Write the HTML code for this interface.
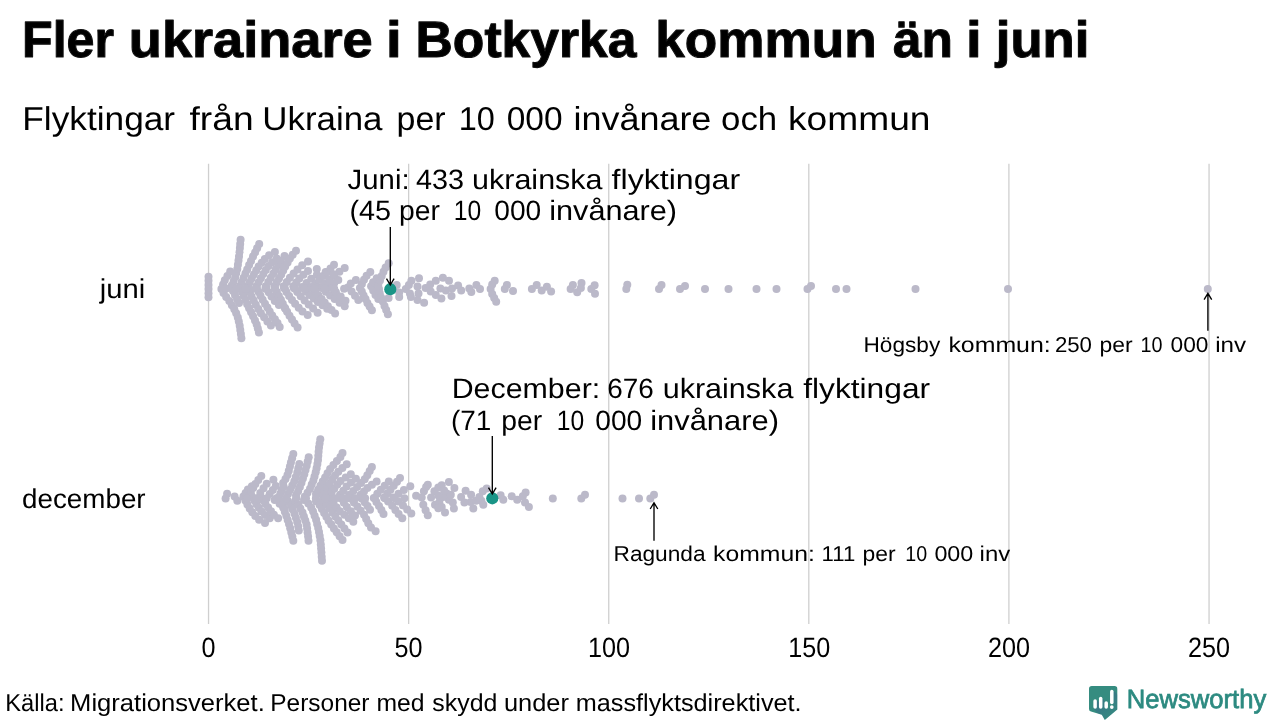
<!DOCTYPE html>
<html lang="sv">
<head>
<meta charset="utf-8">
<title>Fler ukrainare i Botkyrka kommun än i juni</title>
<style>
html,body{margin:0;padding:0;background:#fff;}
body{width:1280px;height:720px;overflow:hidden;}
svg{display:block;font-family:"Liberation Sans",sans-serif;text-rendering:geometricPrecision;will-change:transform;}
text{fill:#000;}
</style>
</head>
<body>
<svg width="1280" height="720" viewBox="0 0 1280 720">
<rect width="1280" height="720" fill="#ffffff"/>
<!-- gridlines -->
<g stroke="#cfcfcf" stroke-width="1.3">
<line x1="208.55" y1="163.7" x2="208.55" y2="624"/>
<line x1="408.65" y1="163.7" x2="408.65" y2="624"/>
<line x1="608.75" y1="163.7" x2="608.75" y2="624"/>
<line x1="808.8" y1="163.7" x2="808.8" y2="624"/>
<line x1="1008.9" y1="163.7" x2="1008.9" y2="624"/>
<line x1="1209.05" y1="163.7" x2="1209.05" y2="624"/>
</g>
<!-- swarm dots -->
<g fill="#bbb9c9">
<circle cx="208.5" cy="276.7" r="4.0"/>
<circle cx="208.5" cy="280.8" r="4.0"/>
<circle cx="208.5" cy="284.9" r="4.0"/>
<circle cx="208.5" cy="289.1" r="4.0"/>
<circle cx="208.5" cy="293.2" r="4.0"/>
<circle cx="208.5" cy="297.3" r="4.0"/>
<circle cx="221.4" cy="289.0" r="4.0"/>
<circle cx="223.1" cy="284.6" r="4.0"/>
<circle cx="224.8" cy="280.2" r="4.0"/>
<circle cx="227.4" cy="275.9" r="4.0"/>
<circle cx="230.2" cy="271.6" r="4.0"/>
<circle cx="223.5" cy="293.1" r="4.0"/>
<circle cx="226.2" cy="297.1" r="4.0"/>
<circle cx="229.3" cy="301.1" r="4.0"/>
<circle cx="231.9" cy="305.2" r="4.0"/>
<circle cx="234.3" cy="309.2" r="4.0"/>
<circle cx="236.2" cy="313.3" r="4.0"/>
<circle cx="237.8" cy="317.4" r="4.0"/>
<circle cx="238.8" cy="321.6" r="4.0"/>
<circle cx="239.7" cy="325.7" r="4.0"/>
<circle cx="240.3" cy="329.9" r="4.0"/>
<circle cx="240.9" cy="334.1" r="4.0"/>
<circle cx="241.4" cy="338.2" r="4.0"/>
<circle cx="231.8" cy="285.5" r="4.0"/>
<circle cx="233.6" cy="281.4" r="4.0"/>
<circle cx="235.2" cy="277.3" r="4.0"/>
<circle cx="236.3" cy="273.1" r="4.0"/>
<circle cx="237.3" cy="268.9" r="4.0"/>
<circle cx="237.9" cy="264.8" r="4.0"/>
<circle cx="238.5" cy="260.6" r="4.0"/>
<circle cx="239.0" cy="256.4" r="4.0"/>
<circle cx="239.5" cy="252.2" r="4.0"/>
<circle cx="239.9" cy="248.0" r="4.0"/>
<circle cx="240.2" cy="243.9" r="4.0"/>
<circle cx="240.6" cy="239.7" r="4.0"/>
<circle cx="231.0" cy="287.1" r="4.0"/>
<circle cx="233.0" cy="291.1" r="4.0"/>
<circle cx="235.0" cy="295.1" r="4.0"/>
<circle cx="237.0" cy="299.1" r="4.0"/>
<circle cx="239.0" cy="303.1" r="4.0"/>
<circle cx="239.8" cy="286.3" r="4.0"/>
<circle cx="241.7" cy="282.1" r="4.0"/>
<circle cx="243.6" cy="277.8" r="4.0"/>
<circle cx="245.4" cy="273.6" r="4.0"/>
<circle cx="247.2" cy="269.4" r="4.0"/>
<circle cx="249.1" cy="265.1" r="4.0"/>
<circle cx="251.0" cy="260.9" r="4.0"/>
<circle cx="253.0" cy="256.6" r="4.0"/>
<circle cx="255.1" cy="252.4" r="4.0"/>
<circle cx="257.1" cy="248.2" r="4.0"/>
<circle cx="259.2" cy="244.0" r="4.0"/>
<circle cx="240.2" cy="287.9" r="4.0"/>
<circle cx="242.0" cy="292.0" r="4.0"/>
<circle cx="243.8" cy="296.0" r="4.0"/>
<circle cx="245.5" cy="300.1" r="4.0"/>
<circle cx="247.2" cy="304.2" r="4.0"/>
<circle cx="249.1" cy="308.2" r="4.0"/>
<circle cx="251.1" cy="312.3" r="4.0"/>
<circle cx="253.1" cy="316.3" r="4.0"/>
<circle cx="255.0" cy="320.4" r="4.0"/>
<circle cx="256.7" cy="324.4" r="4.0"/>
<circle cx="257.8" cy="328.5" r="4.0"/>
<circle cx="258.9" cy="332.6" r="4.0"/>
<circle cx="247.7" cy="286.3" r="4.0"/>
<circle cx="249.7" cy="282.4" r="4.0"/>
<circle cx="251.7" cy="278.4" r="4.0"/>
<circle cx="253.9" cy="274.4" r="4.0"/>
<circle cx="256.2" cy="270.5" r="4.0"/>
<circle cx="258.6" cy="266.6" r="4.0"/>
<circle cx="261.7" cy="262.7" r="4.0"/>
<circle cx="264.8" cy="258.9" r="4.0"/>
<circle cx="269.1" cy="255.2" r="4.0"/>
<circle cx="274.9" cy="252.0" r="4.0"/>
<circle cx="248.2" cy="287.9" r="4.0"/>
<circle cx="249.9" cy="292.2" r="4.0"/>
<circle cx="251.6" cy="296.4" r="4.0"/>
<circle cx="253.7" cy="300.6" r="4.0"/>
<circle cx="255.8" cy="304.8" r="4.0"/>
<circle cx="258.3" cy="309.0" r="4.0"/>
<circle cx="260.9" cy="313.2" r="4.0"/>
<circle cx="264.1" cy="317.3" r="4.0"/>
<circle cx="267.4" cy="321.4" r="4.0"/>
<circle cx="270.9" cy="325.5" r="4.0"/>
<circle cx="256.5" cy="286.3" r="4.0"/>
<circle cx="258.7" cy="282.2" r="4.0"/>
<circle cx="260.9" cy="278.2" r="4.0"/>
<circle cx="263.3" cy="274.1" r="4.0"/>
<circle cx="265.8" cy="270.1" r="4.0"/>
<circle cx="268.7" cy="266.1" r="4.0"/>
<circle cx="272.1" cy="262.2" r="4.0"/>
<circle cx="276.7" cy="258.5" r="4.0"/>
<circle cx="284.5" cy="256.0" r="4.0"/>
<circle cx="256.9" cy="287.9" r="4.0"/>
<circle cx="258.7" cy="291.9" r="4.0"/>
<circle cx="260.5" cy="295.8" r="4.0"/>
<circle cx="262.7" cy="299.7" r="4.0"/>
<circle cx="265.0" cy="303.7" r="4.0"/>
<circle cx="267.4" cy="307.6" r="4.0"/>
<circle cx="269.7" cy="311.5" r="4.0"/>
<circle cx="272.2" cy="315.4" r="4.0"/>
<circle cx="274.9" cy="319.2" r="4.0"/>
<circle cx="277.5" cy="323.1" r="4.0"/>
<circle cx="279.7" cy="327.0" r="4.0"/>
<circle cx="265.8" cy="286.3" r="4.0"/>
<circle cx="268.3" cy="282.1" r="4.0"/>
<circle cx="270.8" cy="277.8" r="4.0"/>
<circle cx="273.3" cy="273.5" r="4.0"/>
<circle cx="275.8" cy="269.3" r="4.0"/>
<circle cx="278.3" cy="265.0" r="4.0"/>
<circle cx="280.5" cy="260.8" r="4.0"/>
<circle cx="266.1" cy="287.9" r="4.0"/>
<circle cx="268.7" cy="292.3" r="4.0"/>
<circle cx="271.5" cy="296.6" r="4.0"/>
<circle cx="274.8" cy="300.9" r="4.0"/>
<circle cx="278.9" cy="305.1" r="4.0"/>
<circle cx="285.3" cy="308.7" r="4.0"/>
<circle cx="274.4" cy="286.3" r="4.0"/>
<circle cx="276.7" cy="282.4" r="4.0"/>
<circle cx="279.0" cy="278.4" r="4.0"/>
<circle cx="281.2" cy="274.4" r="4.0"/>
<circle cx="283.2" cy="270.5" r="4.0"/>
<circle cx="285.2" cy="266.5" r="4.0"/>
<circle cx="287.6" cy="262.5" r="4.0"/>
<circle cx="289.9" cy="258.6" r="4.0"/>
<circle cx="292.7" cy="254.7" r="4.0"/>
<circle cx="296.0" cy="250.8" r="4.0"/>
<circle cx="274.9" cy="287.9" r="4.0"/>
<circle cx="276.9" cy="291.9" r="4.0"/>
<circle cx="278.9" cy="295.9" r="4.0"/>
<circle cx="280.9" cy="299.8" r="4.0"/>
<circle cx="282.8" cy="303.8" r="4.0"/>
<circle cx="284.8" cy="307.8" r="4.0"/>
<circle cx="287.1" cy="311.7" r="4.0"/>
<circle cx="289.5" cy="315.7" r="4.0"/>
<circle cx="292.0" cy="319.6" r="4.0"/>
<circle cx="294.6" cy="323.5" r="4.0"/>
<circle cx="297.6" cy="327.4" r="4.0"/>
<circle cx="283.7" cy="286.3" r="4.0"/>
<circle cx="286.8" cy="282.0" r="4.0"/>
<circle cx="289.9" cy="277.8" r="4.0"/>
<circle cx="293.6" cy="273.6" r="4.0"/>
<circle cx="297.5" cy="269.4" r="4.0"/>
<circle cx="302.2" cy="265.3" r="4.0"/>
<circle cx="308.0" cy="261.6" r="4.0"/>
<circle cx="284.0" cy="287.9" r="4.0"/>
<circle cx="286.5" cy="291.9" r="4.0"/>
<circle cx="289.1" cy="295.9" r="4.0"/>
<circle cx="292.0" cy="299.9" r="4.0"/>
<circle cx="295.1" cy="303.8" r="4.0"/>
<circle cx="298.7" cy="307.7" r="4.0"/>
<circle cx="302.5" cy="311.5" r="4.0"/>
<circle cx="307.7" cy="315.1" r="4.0"/>
<circle cx="293.3" cy="286.3" r="4.0"/>
<circle cx="296.3" cy="282.4" r="4.0"/>
<circle cx="299.3" cy="278.5" r="4.0"/>
<circle cx="303.4" cy="274.8" r="4.0"/>
<circle cx="308.0" cy="271.1" r="4.0"/>
<circle cx="316.8" cy="269.1" r="4.0"/>
<circle cx="293.9" cy="287.9" r="4.0"/>
<circle cx="297.3" cy="292.1" r="4.0"/>
<circle cx="300.7" cy="296.3" r="4.0"/>
<circle cx="304.6" cy="300.5" r="4.0"/>
<circle cx="308.7" cy="304.6" r="4.0"/>
<circle cx="313.1" cy="308.6" r="4.0"/>
<circle cx="317.6" cy="312.7" r="4.0"/>
<circle cx="302.1" cy="287.1" r="4.0"/>
<circle cx="306.5" cy="282.9" r="4.0"/>
<circle cx="311.2" cy="278.8" r="4.0"/>
<circle cx="316.9" cy="274.8" r="4.0"/>
<circle cx="325.6" cy="271.9" r="4.0"/>
<circle cx="302.4" cy="287.9" r="4.0"/>
<circle cx="306.0" cy="291.5" r="4.0"/>
<circle cx="309.5" cy="295.0" r="4.0"/>
<circle cx="313.7" cy="298.5" r="4.0"/>
<circle cx="317.9" cy="301.9" r="4.0"/>
<circle cx="322.5" cy="305.3" r="4.0"/>
<circle cx="327.2" cy="308.7" r="4.0"/>
<circle cx="311.2" cy="287.1" r="4.0"/>
<circle cx="315.4" cy="283.4" r="4.0"/>
<circle cx="319.3" cy="279.7" r="4.0"/>
<circle cx="323.1" cy="276.0" r="4.0"/>
<circle cx="326.8" cy="272.3" r="4.0"/>
<circle cx="330.5" cy="268.5" r="4.0"/>
<circle cx="334.0" cy="264.7" r="4.0"/>
<circle cx="311.5" cy="287.9" r="4.0"/>
<circle cx="315.0" cy="291.5" r="4.0"/>
<circle cx="318.5" cy="295.2" r="4.0"/>
<circle cx="321.6" cy="298.9" r="4.0"/>
<circle cx="324.7" cy="302.6" r="4.0"/>
<circle cx="327.9" cy="306.2" r="4.0"/>
<circle cx="331.5" cy="309.9" r="4.0"/>
<circle cx="335.1" cy="313.5" r="4.0"/>
<circle cx="320.8" cy="287.1" r="4.0"/>
<circle cx="325.1" cy="283.2" r="4.0"/>
<circle cx="329.6" cy="279.3" r="4.0"/>
<circle cx="334.3" cy="275.4" r="4.0"/>
<circle cx="339.4" cy="271.7" r="4.0"/>
<circle cx="344.7" cy="267.9" r="4.0"/>
<circle cx="321.6" cy="287.9" r="4.0"/>
<circle cx="325.8" cy="291.7" r="4.0"/>
<circle cx="330.1" cy="295.4" r="4.0"/>
<circle cx="334.7" cy="299.1" r="4.0"/>
<circle cx="339.6" cy="302.7" r="4.0"/>
<circle cx="344.7" cy="306.3" r="4.0"/>
<circle cx="330.4" cy="286.3" r="4.0"/>
<circle cx="334.3" cy="283.1" r="4.0"/>
<circle cx="338.3" cy="279.9" r="4.0"/>
<circle cx="331.2" cy="287.9" r="4.0"/>
<circle cx="335.9" cy="292.2" r="4.0"/>
<circle cx="340.7" cy="296.4" r="4.0"/>
<circle cx="345.5" cy="300.7" r="4.0"/>
<circle cx="347.9" cy="287.4" r="4.0"/>
<circle cx="350.8" cy="283.5" r="4.0"/>
<circle cx="355.9" cy="279.9" r="4.0"/>
<circle cx="351.6" cy="291.6" r="4.0"/>
<circle cx="355.0" cy="295.7" r="4.0"/>
<circle cx="358.3" cy="299.9" r="4.0"/>
<circle cx="359.9" cy="287.9" r="4.0"/>
<circle cx="361.9" cy="283.9" r="4.0"/>
<circle cx="364.0" cy="279.8" r="4.0"/>
<circle cx="366.6" cy="275.8" r="4.0"/>
<circle cx="370.3" cy="271.9" r="4.0"/>
<circle cx="361.8" cy="291.6" r="4.0"/>
<circle cx="363.6" cy="295.4" r="4.0"/>
<circle cx="365.5" cy="299.1" r="4.0"/>
<circle cx="367.4" cy="302.9" r="4.0"/>
<circle cx="369.6" cy="306.6" r="4.0"/>
<circle cx="371.9" cy="310.3" r="4.0"/>
<circle cx="371.1" cy="286.3" r="4.0"/>
<circle cx="373.1" cy="282.2" r="4.0"/>
<circle cx="376.7" cy="278.3" r="4.0"/>
<circle cx="373.2" cy="290.6" r="4.0"/>
<circle cx="375.5" cy="294.9" r="4.0"/>
<circle cx="378.3" cy="299.1" r="4.0"/>
<circle cx="378.3" cy="284.7" r="4.0"/>
<circle cx="380.0" cy="280.4" r="4.0"/>
<circle cx="381.7" cy="276.0" r="4.0"/>
<circle cx="383.5" cy="271.7" r="4.0"/>
<circle cx="385.6" cy="267.4" r="4.0"/>
<circle cx="388.7" cy="263.2" r="4.0"/>
<circle cx="379.0" cy="289.0" r="4.0"/>
<circle cx="379.7" cy="293.2" r="4.0"/>
<circle cx="381.1" cy="297.4" r="4.0"/>
<circle cx="382.8" cy="301.6" r="4.0"/>
<circle cx="384.5" cy="305.9" r="4.0"/>
<circle cx="386.2" cy="310.1" r="4.0"/>
<circle cx="387.9" cy="314.3" r="4.0"/>
<circle cx="333.5" cy="274.3" r="4.0"/>
<circle cx="226.0" cy="288.7" r="4.0"/>
<circle cx="235.8" cy="288.7" r="4.0"/>
<circle cx="245.7" cy="288.7" r="4.0"/>
<circle cx="255.5" cy="288.7" r="4.0"/>
<circle cx="265.4" cy="288.7" r="4.0"/>
<circle cx="275.2" cy="288.7" r="4.0"/>
<circle cx="285.0" cy="288.7" r="4.0"/>
<circle cx="294.9" cy="288.7" r="4.0"/>
<circle cx="304.7" cy="288.7" r="4.0"/>
<circle cx="314.6" cy="288.7" r="4.0"/>
<circle cx="324.4" cy="288.7" r="4.0"/>
<circle cx="334.2" cy="288.7" r="4.0"/>
<circle cx="344.1" cy="288.7" r="4.0"/>
<circle cx="396.7" cy="284.9" r="4.0"/>
<circle cx="399.2" cy="292.5" r="4.0"/>
<circle cx="399.2" cy="297.1" r="4.0"/>
<circle cx="388.6" cy="298.1" r="4.0"/>
<circle cx="405.8" cy="289.0" r="4.0"/>
<circle cx="408.9" cy="284.9" r="4.0"/>
<circle cx="411.4" cy="280.8" r="4.0"/>
<circle cx="409.9" cy="293.5" r="4.0"/>
<circle cx="410.9" cy="297.1" r="4.0"/>
<circle cx="419.0" cy="278.3" r="4.0"/>
<circle cx="417.5" cy="286.4" r="4.0"/>
<circle cx="418.5" cy="293.5" r="4.0"/>
<circle cx="417.5" cy="300.1" r="4.0"/>
<circle cx="424.1" cy="302.7" r="4.0"/>
<circle cx="425.6" cy="287.9" r="4.0"/>
<circle cx="430.2" cy="284.4" r="4.0"/>
<circle cx="435.8" cy="280.8" r="4.0"/>
<circle cx="442.9" cy="277.8" r="4.0"/>
<circle cx="449.0" cy="280.8" r="4.0"/>
<circle cx="430.7" cy="291.5" r="4.0"/>
<circle cx="435.8" cy="295.1" r="4.0"/>
<circle cx="441.4" cy="298.6" r="4.0"/>
<circle cx="440.4" cy="288.5" r="4.0"/>
<circle cx="445.9" cy="290.5" r="4.0"/>
<circle cx="451.5" cy="296.1" r="4.0"/>
<circle cx="452.0" cy="288.5" r="4.0"/>
<circle cx="458.1" cy="285.4" r="4.0"/>
<circle cx="461.2" cy="290.5" r="4.0"/>
<circle cx="469.3" cy="288.5" r="4.0"/>
<circle cx="471.3" cy="292.0" r="4.0"/>
<circle cx="476.4" cy="284.9" r="4.0"/>
<circle cx="480.0" cy="289.0" r="4.0"/>
<circle cx="490.6" cy="289.0" r="4.0"/>
<circle cx="492.2" cy="284.4" r="4.0"/>
<circle cx="494.7" cy="280.8" r="4.0"/>
<circle cx="492.2" cy="294.0" r="4.0"/>
<circle cx="494.2" cy="298.1" r="4.0"/>
<circle cx="496.2" cy="301.7" r="4.0"/>
<circle cx="506.9" cy="284.9" r="4.0"/>
<circle cx="504.8" cy="289.0" r="4.0"/>
<circle cx="513.0" cy="291.0" r="4.0"/>
<circle cx="531.9" cy="289.0" r="4.0"/>
<circle cx="536.7" cy="285.1" r="4.0"/>
<circle cx="541.7" cy="290.4" r="4.0"/>
<circle cx="546.9" cy="286.8" r="4.0"/>
<circle cx="551.1" cy="291.5" r="4.0"/>
<circle cx="570.6" cy="289.1" r="4.0"/>
<circle cx="572.9" cy="284.9" r="4.0"/>
<circle cx="577.2" cy="292.3" r="4.0"/>
<circle cx="581.5" cy="282.9" r="4.0"/>
<circle cx="580.9" cy="288.1" r="4.0"/>
<circle cx="591.3" cy="289.1" r="4.0"/>
<circle cx="594.6" cy="285.3" r="4.0"/>
<circle cx="595.0" cy="293.8" r="4.0"/>
<circle cx="627.3" cy="284.8" r="4.0"/>
<circle cx="626.3" cy="289.1" r="4.0"/>
<circle cx="659.0" cy="289.0" r="4.0"/>
<circle cx="661.5" cy="285.0" r="4.0"/>
<circle cx="680.0" cy="289.0" r="4.0"/>
<circle cx="685.0" cy="286.0" r="4.0"/>
<circle cx="705.0" cy="289.0" r="4.0"/>
<circle cx="728.5" cy="289.0" r="4.0"/>
<circle cx="756.5" cy="289.0" r="4.0"/>
<circle cx="776.5" cy="289.0" r="4.0"/>
<circle cx="807.5" cy="289.0" r="4.0"/>
<circle cx="811.0" cy="286.0" r="4.0"/>
<circle cx="836.0" cy="289.0" r="4.0"/>
<circle cx="846.5" cy="289.0" r="4.0"/>
<circle cx="915.5" cy="289.0" r="4.0"/>
<circle cx="1008.0" cy="289.0" r="4.0"/>
<circle cx="1207.8" cy="289.0" r="4.0"/>
<circle cx="227.1" cy="493.8" r="4.0"/>
<circle cx="225.6" cy="498.5" r="4.0"/>
<circle cx="234.6" cy="496.6" r="4.0"/>
<circle cx="237.3" cy="500.8" r="4.0"/>
<circle cx="243.4" cy="496.6" r="4.0"/>
<circle cx="245.6" cy="493.1" r="4.0"/>
<circle cx="247.9" cy="489.6" r="4.0"/>
<circle cx="251.9" cy="486.3" r="4.0"/>
<circle cx="245.4" cy="500.6" r="4.0"/>
<circle cx="247.4" cy="504.5" r="4.0"/>
<circle cx="249.7" cy="508.4" r="4.0"/>
<circle cx="252.3" cy="512.2" r="4.0"/>
<circle cx="255.3" cy="516.0" r="4.0"/>
<circle cx="259.1" cy="519.8" r="4.0"/>
<circle cx="265.0" cy="522.9" r="4.0"/>
<circle cx="250.9" cy="491.9" r="4.0"/>
<circle cx="253.2" cy="487.9" r="4.0"/>
<circle cx="255.4" cy="483.9" r="4.0"/>
<circle cx="258.3" cy="479.9" r="4.0"/>
<circle cx="261.3" cy="476.0" r="4.0"/>
<circle cx="251.9" cy="496.6" r="4.0"/>
<circle cx="254.1" cy="500.3" r="4.0"/>
<circle cx="256.3" cy="504.0" r="4.0"/>
<circle cx="258.8" cy="507.7" r="4.0"/>
<circle cx="261.5" cy="511.4" r="4.0"/>
<circle cx="265.0" cy="514.9" r="4.0"/>
<circle cx="269.7" cy="518.2" r="4.0"/>
<circle cx="260.3" cy="492.9" r="4.0"/>
<circle cx="263.5" cy="488.3" r="4.0"/>
<circle cx="266.7" cy="483.7" r="4.0"/>
<circle cx="273.4" cy="479.8" r="4.0"/>
<circle cx="260.3" cy="496.6" r="4.0"/>
<circle cx="262.9" cy="500.3" r="4.0"/>
<circle cx="265.4" cy="503.9" r="4.0"/>
<circle cx="268.1" cy="507.6" r="4.0"/>
<circle cx="271.0" cy="511.2" r="4.0"/>
<circle cx="273.9" cy="514.8" r="4.0"/>
<circle cx="278.1" cy="518.2" r="4.0"/>
<circle cx="269.7" cy="494.0" r="4.0"/>
<circle cx="272.8" cy="490.0" r="4.0"/>
<circle cx="275.8" cy="485.9" r="4.0"/>
<circle cx="283.1" cy="483.1" r="4.0"/>
<circle cx="285.5" cy="479.0" r="4.0"/>
<circle cx="287.5" cy="474.9" r="4.0"/>
<circle cx="288.8" cy="470.7" r="4.0"/>
<circle cx="289.9" cy="466.5" r="4.0"/>
<circle cx="290.9" cy="462.4" r="4.0"/>
<circle cx="292.1" cy="458.2" r="4.0"/>
<circle cx="293.3" cy="454.0" r="4.0"/>
<circle cx="274.7" cy="500.0" r="4.0"/>
<circle cx="279.6" cy="503.7" r="4.0"/>
<circle cx="283.2" cy="507.5" r="4.0"/>
<circle cx="284.8" cy="511.7" r="4.0"/>
<circle cx="286.3" cy="515.8" r="4.0"/>
<circle cx="287.7" cy="519.9" r="4.0"/>
<circle cx="289.0" cy="524.1" r="4.0"/>
<circle cx="290.2" cy="528.2" r="4.0"/>
<circle cx="291.3" cy="532.4" r="4.0"/>
<circle cx="292.3" cy="536.5" r="4.0"/>
<circle cx="293.3" cy="540.7" r="4.0"/>
<circle cx="278.9" cy="496.9" r="4.0"/>
<circle cx="280.4" cy="493.5" r="4.0"/>
<circle cx="281.9" cy="490.1" r="4.0"/>
<circle cx="283.7" cy="486.7" r="4.0"/>
<circle cx="280.9" cy="501.1" r="4.0"/>
<circle cx="282.8" cy="505.2" r="4.0"/>
<circle cx="284.7" cy="509.3" r="4.0"/>
<circle cx="288.0" cy="494.0" r="4.0"/>
<circle cx="290.1" cy="489.7" r="4.0"/>
<circle cx="292.3" cy="485.5" r="4.0"/>
<circle cx="294.3" cy="481.2" r="4.0"/>
<circle cx="295.8" cy="476.9" r="4.0"/>
<circle cx="297.3" cy="472.6" r="4.0"/>
<circle cx="298.3" cy="468.3" r="4.0"/>
<circle cx="299.3" cy="464.0" r="4.0"/>
<circle cx="288.0" cy="501.3" r="4.0"/>
<circle cx="291.0" cy="505.4" r="4.0"/>
<circle cx="292.7" cy="509.5" r="4.0"/>
<circle cx="294.5" cy="513.7" r="4.0"/>
<circle cx="295.9" cy="517.8" r="4.0"/>
<circle cx="297.2" cy="522.0" r="4.0"/>
<circle cx="298.2" cy="526.2" r="4.0"/>
<circle cx="298.8" cy="530.4" r="4.0"/>
<circle cx="296.0" cy="495.3" r="4.0"/>
<circle cx="298.1" cy="491.2" r="4.0"/>
<circle cx="299.9" cy="487.0" r="4.0"/>
<circle cx="301.5" cy="482.7" r="4.0"/>
<circle cx="302.9" cy="478.5" r="4.0"/>
<circle cx="304.3" cy="474.3" r="4.0"/>
<circle cx="305.5" cy="470.1" r="4.0"/>
<circle cx="306.7" cy="465.8" r="4.0"/>
<circle cx="307.7" cy="461.6" r="4.0"/>
<circle cx="308.7" cy="457.3" r="4.0"/>
<circle cx="295.3" cy="500.7" r="4.0"/>
<circle cx="298.3" cy="504.5" r="4.0"/>
<circle cx="300.4" cy="508.5" r="4.0"/>
<circle cx="302.5" cy="512.4" r="4.0"/>
<circle cx="303.9" cy="516.5" r="4.0"/>
<circle cx="305.3" cy="520.5" r="4.0"/>
<circle cx="306.6" cy="524.5" r="4.0"/>
<circle cx="307.1" cy="528.5" r="4.0"/>
<circle cx="307.6" cy="532.6" r="4.0"/>
<circle cx="308.1" cy="536.6" r="4.0"/>
<circle cx="308.5" cy="540.7" r="4.0"/>
<circle cx="304.7" cy="496.7" r="4.0"/>
<circle cx="307.5" cy="492.7" r="4.0"/>
<circle cx="310.0" cy="488.7" r="4.0"/>
<circle cx="311.7" cy="484.6" r="4.0"/>
<circle cx="313.4" cy="480.5" r="4.0"/>
<circle cx="314.5" cy="476.4" r="4.0"/>
<circle cx="315.7" cy="472.3" r="4.0"/>
<circle cx="316.6" cy="468.2" r="4.0"/>
<circle cx="317.4" cy="464.1" r="4.0"/>
<circle cx="318.0" cy="460.0" r="4.0"/>
<circle cx="318.3" cy="455.8" r="4.0"/>
<circle cx="318.6" cy="451.7" r="4.0"/>
<circle cx="319.0" cy="447.6" r="4.0"/>
<circle cx="319.6" cy="443.5" r="4.0"/>
<circle cx="320.3" cy="439.3" r="4.0"/>
<circle cx="304.0" cy="500.0" r="4.0"/>
<circle cx="308.3" cy="503.6" r="4.0"/>
<circle cx="311.2" cy="507.6" r="4.0"/>
<circle cx="313.1" cy="511.6" r="4.0"/>
<circle cx="314.6" cy="515.7" r="4.0"/>
<circle cx="316.1" cy="519.8" r="4.0"/>
<circle cx="317.1" cy="523.9" r="4.0"/>
<circle cx="318.2" cy="527.9" r="4.0"/>
<circle cx="319.0" cy="532.0" r="4.0"/>
<circle cx="319.7" cy="536.1" r="4.0"/>
<circle cx="320.4" cy="540.2" r="4.0"/>
<circle cx="320.8" cy="544.4" r="4.0"/>
<circle cx="321.1" cy="548.5" r="4.0"/>
<circle cx="321.4" cy="552.6" r="4.0"/>
<circle cx="321.7" cy="556.7" r="4.0"/>
<circle cx="322.0" cy="560.8" r="4.0"/>
<circle cx="316.0" cy="494.0" r="4.0"/>
<circle cx="318.1" cy="489.8" r="4.0"/>
<circle cx="320.4" cy="485.7" r="4.0"/>
<circle cx="322.7" cy="481.5" r="4.0"/>
<circle cx="325.1" cy="477.4" r="4.0"/>
<circle cx="327.5" cy="473.3" r="4.0"/>
<circle cx="330.1" cy="469.1" r="4.0"/>
<circle cx="333.4" cy="465.1" r="4.0"/>
<circle cx="336.9" cy="461.1" r="4.0"/>
<circle cx="340.4" cy="457.1" r="4.0"/>
<circle cx="342.5" cy="452.9" r="4.0"/>
<circle cx="316.0" cy="501.3" r="4.0"/>
<circle cx="319.6" cy="505.0" r="4.0"/>
<circle cx="321.9" cy="509.0" r="4.0"/>
<circle cx="324.1" cy="512.9" r="4.0"/>
<circle cx="326.4" cy="516.8" r="4.0"/>
<circle cx="328.6" cy="520.7" r="4.0"/>
<circle cx="331.2" cy="524.6" r="4.0"/>
<circle cx="333.9" cy="528.4" r="4.0"/>
<circle cx="336.7" cy="532.3" r="4.0"/>
<circle cx="339.6" cy="536.2" r="4.0"/>
<circle cx="342.5" cy="540.0" r="4.0"/>
<circle cx="322.7" cy="495.3" r="4.0"/>
<circle cx="324.7" cy="491.3" r="4.0"/>
<circle cx="327.1" cy="487.4" r="4.0"/>
<circle cx="329.7" cy="483.4" r="4.0"/>
<circle cx="332.3" cy="479.5" r="4.0"/>
<circle cx="335.0" cy="475.6" r="4.0"/>
<circle cx="338.3" cy="471.7" r="4.0"/>
<circle cx="342.4" cy="468.0" r="4.0"/>
<circle cx="346.7" cy="464.3" r="4.0"/>
<circle cx="322.7" cy="500.7" r="4.0"/>
<circle cx="326.3" cy="504.6" r="4.0"/>
<circle cx="329.5" cy="508.5" r="4.0"/>
<circle cx="332.5" cy="512.5" r="4.0"/>
<circle cx="335.4" cy="516.6" r="4.0"/>
<circle cx="338.3" cy="520.6" r="4.0"/>
<circle cx="341.3" cy="524.6" r="4.0"/>
<circle cx="344.4" cy="528.5" r="4.0"/>
<circle cx="347.5" cy="532.5" r="4.0"/>
<circle cx="330.0" cy="496.0" r="4.0"/>
<circle cx="331.7" cy="492.1" r="4.0"/>
<circle cx="334.4" cy="488.4" r="4.0"/>
<circle cx="337.4" cy="484.6" r="4.0"/>
<circle cx="340.6" cy="481.0" r="4.0"/>
<circle cx="345.7" cy="477.6" r="4.0"/>
<circle cx="350.8" cy="474.3" r="4.0"/>
<circle cx="330.0" cy="500.0" r="4.0"/>
<circle cx="333.6" cy="503.7" r="4.0"/>
<circle cx="336.7" cy="507.4" r="4.0"/>
<circle cx="339.9" cy="511.2" r="4.0"/>
<circle cx="344.3" cy="514.7" r="4.0"/>
<circle cx="348.8" cy="518.2" r="4.0"/>
<circle cx="353.3" cy="521.7" r="4.0"/>
<circle cx="340.0" cy="494.8" r="4.0"/>
<circle cx="343.3" cy="490.7" r="4.0"/>
<circle cx="346.6" cy="486.6" r="4.0"/>
<circle cx="351.0" cy="482.6" r="4.0"/>
<circle cx="355.9" cy="478.8" r="4.0"/>
<circle cx="340.9" cy="498.5" r="4.0"/>
<circle cx="343.9" cy="502.8" r="4.0"/>
<circle cx="346.9" cy="507.1" r="4.0"/>
<circle cx="350.9" cy="511.2" r="4.0"/>
<circle cx="355.0" cy="515.4" r="4.0"/>
<circle cx="349.4" cy="494.8" r="4.0"/>
<circle cx="353.3" cy="490.9" r="4.0"/>
<circle cx="357.1" cy="487.0" r="4.0"/>
<circle cx="361.0" cy="483.1" r="4.0"/>
<circle cx="364.7" cy="479.2" r="4.0"/>
<circle cx="367.3" cy="475.2" r="4.0"/>
<circle cx="369.7" cy="471.1" r="4.0"/>
<circle cx="371.9" cy="467.0" r="4.0"/>
<circle cx="350.3" cy="498.5" r="4.0"/>
<circle cx="353.9" cy="502.6" r="4.0"/>
<circle cx="357.4" cy="506.6" r="4.0"/>
<circle cx="360.7" cy="510.7" r="4.0"/>
<circle cx="364.0" cy="514.8" r="4.0"/>
<circle cx="366.2" cy="519.1" r="4.0"/>
<circle cx="368.3" cy="523.3" r="4.0"/>
<circle cx="371.0" cy="527.4" r="4.0"/>
<circle cx="375.6" cy="531.3" r="4.0"/>
<circle cx="360.6" cy="494.8" r="4.0"/>
<circle cx="364.0" cy="491.4" r="4.0"/>
<circle cx="367.4" cy="488.0" r="4.0"/>
<circle cx="371.9" cy="484.8" r="4.0"/>
<circle cx="376.6" cy="481.6" r="4.0"/>
<circle cx="361.6" cy="498.5" r="4.0"/>
<circle cx="364.7" cy="502.2" r="4.0"/>
<circle cx="367.5" cy="506.0" r="4.0"/>
<circle cx="370.0" cy="509.8" r="4.0"/>
<circle cx="373.8" cy="497.9" r="4.0"/>
<circle cx="377.3" cy="493.8" r="4.0"/>
<circle cx="380.8" cy="489.7" r="4.0"/>
<circle cx="384.7" cy="485.7" r="4.0"/>
<circle cx="388.8" cy="481.6" r="4.0"/>
<circle cx="376.4" cy="501.9" r="4.0"/>
<circle cx="379.0" cy="505.9" r="4.0"/>
<circle cx="381.4" cy="509.9" r="4.0"/>
<circle cx="383.5" cy="513.9" r="4.0"/>
<circle cx="384.1" cy="497.6" r="4.0"/>
<circle cx="387.3" cy="493.6" r="4.0"/>
<circle cx="390.5" cy="489.7" r="4.0"/>
<circle cx="393.7" cy="485.8" r="4.0"/>
<circle cx="397.0" cy="481.8" r="4.0"/>
<circle cx="400.0" cy="477.9" r="4.0"/>
<circle cx="388.1" cy="501.6" r="4.0"/>
<circle cx="392.2" cy="505.7" r="4.0"/>
<circle cx="395.4" cy="509.9" r="4.0"/>
<circle cx="398.6" cy="514.1" r="4.0"/>
<circle cx="402.3" cy="518.2" r="4.0"/>
<circle cx="393.4" cy="497.6" r="4.0"/>
<circle cx="398.5" cy="493.7" r="4.0"/>
<circle cx="403.9" cy="489.9" r="4.0"/>
<circle cx="410.3" cy="486.3" r="4.0"/>
<circle cx="398.2" cy="501.5" r="4.0"/>
<circle cx="403.0" cy="505.4" r="4.0"/>
<circle cx="407.2" cy="509.4" r="4.0"/>
<circle cx="411.3" cy="513.5" r="4.0"/>
<circle cx="247.0" cy="498.3" r="4.0"/>
<circle cx="256.8" cy="498.3" r="4.0"/>
<circle cx="266.7" cy="498.3" r="4.0"/>
<circle cx="276.5" cy="498.3" r="4.0"/>
<circle cx="286.4" cy="498.3" r="4.0"/>
<circle cx="296.2" cy="498.3" r="4.0"/>
<circle cx="306.0" cy="498.3" r="4.0"/>
<circle cx="315.9" cy="498.3" r="4.0"/>
<circle cx="325.7" cy="498.3" r="4.0"/>
<circle cx="335.6" cy="498.3" r="4.0"/>
<circle cx="345.4" cy="498.3" r="4.0"/>
<circle cx="355.2" cy="498.3" r="4.0"/>
<circle cx="365.1" cy="498.3" r="4.0"/>
<circle cx="374.9" cy="498.3" r="4.0"/>
<circle cx="384.8" cy="498.3" r="4.0"/>
<circle cx="394.6" cy="498.3" r="4.0"/>
<circle cx="404.4" cy="498.3" r="4.0"/>
<circle cx="416.1" cy="495.8" r="4.0"/>
<circle cx="421.7" cy="497.4" r="4.0"/>
<circle cx="423.9" cy="491.3" r="4.0"/>
<circle cx="426.1" cy="486.9" r="4.0"/>
<circle cx="427.8" cy="484.7" r="4.0"/>
<circle cx="423.3" cy="504.7" r="4.0"/>
<circle cx="425.6" cy="510.2" r="4.0"/>
<circle cx="427.8" cy="515.2" r="4.0"/>
<circle cx="431.1" cy="497.4" r="4.0"/>
<circle cx="434.4" cy="491.3" r="4.0"/>
<circle cx="438.3" cy="487.4" r="4.0"/>
<circle cx="441.7" cy="485.2" r="4.0"/>
<circle cx="448.9" cy="481.9" r="4.0"/>
<circle cx="454.4" cy="488.0" r="4.0"/>
<circle cx="435.0" cy="504.7" r="4.0"/>
<circle cx="439.4" cy="501.9" r="4.0"/>
<circle cx="441.7" cy="506.9" r="4.0"/>
<circle cx="445.0" cy="512.4" r="4.0"/>
<circle cx="448.9" cy="499.7" r="4.0"/>
<circle cx="452.8" cy="502.4" r="4.0"/>
<circle cx="453.9" cy="508.6" r="4.0"/>
<circle cx="446.7" cy="493.6" r="4.0"/>
<circle cx="443.3" cy="496.9" r="4.0"/>
<circle cx="438.3" cy="495.6" r="4.0"/>
<circle cx="444.1" cy="490.4" r="4.0"/>
<circle cx="450.8" cy="494.7" r="4.0"/>
<circle cx="438.3" cy="508.2" r="4.0"/>
<circle cx="470.6" cy="501.9" r="4.0"/>
<circle cx="481.4" cy="500.8" r="4.0"/>
<circle cx="461.1" cy="496.9" r="4.0"/>
<circle cx="465.6" cy="490.8" r="4.0"/>
<circle cx="464.4" cy="502.4" r="4.0"/>
<circle cx="471.1" cy="494.7" r="4.0"/>
<circle cx="473.3" cy="508.6" r="4.0"/>
<circle cx="476.1" cy="500.8" r="4.0"/>
<circle cx="482.8" cy="491.3" r="4.0"/>
<circle cx="486.7" cy="488.6" r="4.0"/>
<circle cx="483.3" cy="504.7" r="4.0"/>
<circle cx="479.4" cy="496.9" r="4.0"/>
<circle cx="500.6" cy="495.2" r="4.0"/>
<circle cx="503.3" cy="499.7" r="4.0"/>
<circle cx="511.7" cy="496.3" r="4.0"/>
<circle cx="517.2" cy="499.7" r="4.0"/>
<circle cx="525.6" cy="492.4" r="4.0"/>
<circle cx="522.8" cy="496.3" r="4.0"/>
<circle cx="525.0" cy="502.4" r="4.0"/>
<circle cx="528.9" cy="506.9" r="4.0"/>
<circle cx="552.8" cy="498.4" r="4.0"/>
<circle cx="581.3" cy="498.4" r="4.0"/>
<circle cx="585.0" cy="494.7" r="4.0"/>
<circle cx="622.5" cy="498.4" r="4.0"/>
<circle cx="639.0" cy="498.4" r="4.0"/>
<circle cx="650.3" cy="498.4" r="4.0"/>
<circle cx="654.0" cy="494.7" r="4.0"/>
</g>
<!-- highlighted -->
<circle cx="390.3" cy="289.2" r="6.1" fill="#1a9587"/>
<circle cx="492.3" cy="498.3" r="6.1" fill="#1a9587"/>
<!-- arrows -->
<g stroke="#000" stroke-width="1.35" fill="none" stroke-linecap="butt" stroke-linejoin="miter">
<path d="M390.3 227V285M386.5 278.7L390.3 285L394.1 278.7"/>
<path d="M492.3 436V494M488.5 487.7L492.3 494L496.1 487.7"/>
<path d="M1207.9 330.7V293.3M1204.1 299.6L1207.9 293.3L1211.7 299.6"/>
<path d="M654 540.7V502.7M650.2 509L654 502.7L657.8 509"/>
</g>
<!-- text -->
<g font-size="51" font-weight="bold" style="fill:#111111" stroke="#111111" stroke-width="1.1" stroke-linejoin="round">
<text y="57.0"><tspan x="22.1" textLength="91.9" lengthAdjust="spacingAndGlyphs">Fler</tspan> <tspan x="128.8" textLength="243.9" lengthAdjust="spacingAndGlyphs">ukrainare</tspan> <tspan x="386.1" textLength="15.6" lengthAdjust="spacingAndGlyphs">i</tspan> <tspan x="415.6" textLength="220.9" lengthAdjust="spacingAndGlyphs">Botkyrka</tspan> <tspan x="655.3" textLength="221.3" lengthAdjust="spacingAndGlyphs">kommun</tspan> <tspan x="892.9" textLength="60.0" lengthAdjust="spacingAndGlyphs">än</tspan> <tspan x="965.9" textLength="15.6" lengthAdjust="spacingAndGlyphs">i</tspan> <tspan x="995.8" textLength="93.6" lengthAdjust="spacingAndGlyphs">juni</tspan></text>
</g>
<g font-size="33" style="fill:#111111">
<text y="130.0"><tspan x="22.3" textLength="152.8" lengthAdjust="spacingAndGlyphs">Flyktingar</tspan> <tspan x="189.5" textLength="64.1" lengthAdjust="spacingAndGlyphs">från</tspan> <tspan x="262.3" textLength="120.2" lengthAdjust="spacingAndGlyphs">Ukraina</tspan> <tspan x="396.5" textLength="49.1" lengthAdjust="spacingAndGlyphs">per</tspan> <tspan x="458.8" textLength="36.1" lengthAdjust="spacingAndGlyphs">10</tspan> <tspan x="506.7" textLength="55.8" lengthAdjust="spacingAndGlyphs">000</tspan> <tspan x="573.4" textLength="138.0" lengthAdjust="spacingAndGlyphs">invånare</tspan> <tspan x="721.0" textLength="56.2" lengthAdjust="spacingAndGlyphs">och</tspan> <tspan x="788.0" textLength="142.5" lengthAdjust="spacingAndGlyphs">kommun</tspan></text>
</g>
<g font-size="28">
<text y="188.5"><tspan x="347.6" textLength="62.0" lengthAdjust="spacingAndGlyphs">Juni:</tspan> <tspan x="416.1" textLength="48.0" lengthAdjust="spacingAndGlyphs">433</tspan> <tspan x="472.1" textLength="130.4" lengthAdjust="spacingAndGlyphs">ukrainska</tspan> <tspan x="611.6" textLength="128.6" lengthAdjust="spacingAndGlyphs">flyktingar</tspan></text>
<text y="220.0"><tspan x="349.4" textLength="41.6" lengthAdjust="spacingAndGlyphs">(45</tspan> <tspan x="399.1" textLength="40.9" lengthAdjust="spacingAndGlyphs">per</tspan> <tspan x="453.8" textLength="27.4" lengthAdjust="spacingAndGlyphs">10</tspan> <tspan x="494.3" textLength="46.9" lengthAdjust="spacingAndGlyphs">000</tspan> <tspan x="549.2" textLength="127.9" lengthAdjust="spacingAndGlyphs">invånare)</tspan></text>
<text y="398.0"><tspan x="451.7" textLength="148.5" lengthAdjust="spacingAndGlyphs">December:</tspan> <tspan x="607.2" textLength="46.5" lengthAdjust="spacingAndGlyphs">676</tspan> <tspan x="662.7" textLength="130.7" lengthAdjust="spacingAndGlyphs">ukrainska</tspan> <tspan x="803.2" textLength="126.9" lengthAdjust="spacingAndGlyphs">flyktingar</tspan></text>
<text y="430.0"><tspan x="450.9" textLength="40.3" lengthAdjust="spacingAndGlyphs">(71</tspan> <tspan x="501.2" textLength="40.9" lengthAdjust="spacingAndGlyphs">per</tspan> <tspan x="556.8" textLength="27.4" lengthAdjust="spacingAndGlyphs">10</tspan> <tspan x="595.3" textLength="46.9" lengthAdjust="spacingAndGlyphs">000</tspan> <tspan x="650.2" textLength="128.8" lengthAdjust="spacingAndGlyphs">invånare)</tspan></text>
</g>
<g font-size="21.5">
<text y="352.0"><tspan x="863.5" textLength="76.7" lengthAdjust="spacingAndGlyphs">Högsby</tspan> <tspan x="948.4" textLength="102.3" lengthAdjust="spacingAndGlyphs">kommun:</tspan> <tspan x="1054.9" textLength="37.1" lengthAdjust="spacingAndGlyphs">250</tspan> <tspan x="1099.5" textLength="33.1" lengthAdjust="spacingAndGlyphs">per</tspan> <tspan x="1140.5" textLength="22.0" lengthAdjust="spacingAndGlyphs">10</tspan> <tspan x="1170.6" textLength="37.9" lengthAdjust="spacingAndGlyphs">000</tspan> <tspan x="1215.2" textLength="30.9" lengthAdjust="spacingAndGlyphs">inv</tspan></text>
<text y="561.4"><tspan x="613.5" textLength="92.1" lengthAdjust="spacingAndGlyphs">Ragunda</tspan> <tspan x="713.1" textLength="101.7" lengthAdjust="spacingAndGlyphs">kommun:</tspan> <tspan x="821.6" textLength="33.7" lengthAdjust="spacingAndGlyphs">111</tspan> <tspan x="862.6" textLength="33.1" lengthAdjust="spacingAndGlyphs">per</tspan> <tspan x="905.3" textLength="21.9" lengthAdjust="spacingAndGlyphs">10</tspan> <tspan x="934.4" textLength="38.9" lengthAdjust="spacingAndGlyphs">000</tspan> <tspan x="979.6" textLength="30.6" lengthAdjust="spacingAndGlyphs">inv</tspan></text>
</g>
<g font-size="24.4">
<text y="711.0"><tspan x="5.3" textLength="59.2" lengthAdjust="spacingAndGlyphs">Källa:</tspan> <tspan x="70.1" textLength="194.7" lengthAdjust="spacingAndGlyphs">Migrationsverket.</tspan> <tspan x="270.3" textLength="99.2" lengthAdjust="spacingAndGlyphs">Personer</tspan> <tspan x="376.4" textLength="48.1" lengthAdjust="spacingAndGlyphs">med</tspan> <tspan x="432.3" textLength="65.1" lengthAdjust="spacingAndGlyphs">skydd</tspan> <tspan x="503.9" textLength="65.0" lengthAdjust="spacingAndGlyphs">under</tspan> <tspan x="575.7" textLength="225.9" lengthAdjust="spacingAndGlyphs">massflyktsdirektivet.</tspan></text>
</g>
<!-- y labels -->
<g font-size="27.2" text-anchor="end">
<text x="145.3" y="298.2" textLength="45.5" lengthAdjust="spacingAndGlyphs">juni</text>
<text x="145.6" y="507.5" textLength="123.5" lengthAdjust="spacingAndGlyphs">december</text>
</g>
<!-- x tick labels -->
<g font-size="28" text-anchor="middle" lengthAdjust="spacingAndGlyphs">
<text x="208.4" y="656.6" textLength="14" lengthAdjust="spacingAndGlyphs">0</text>
<text x="408.5" y="656.6" textLength="28" lengthAdjust="spacingAndGlyphs">50</text>
<text x="609" y="656.6" textLength="42" lengthAdjust="spacingAndGlyphs">100</text>
<text x="809.3" y="656.6" textLength="42" lengthAdjust="spacingAndGlyphs">150</text>
<text x="1008.9" y="656.6" textLength="42" lengthAdjust="spacingAndGlyphs">200</text>
<text x="1209" y="656.6" textLength="42" lengthAdjust="spacingAndGlyphs">250</text>
</g>
<!-- logo -->
<g>
<defs>
<linearGradient id="shg" gradientUnits="userSpaceOnUse" x1="1098" y1="698" x2="1112" y2="714"><stop offset="0" stop-color="#3b5f8c" stop-opacity="0.55"/><stop offset="1" stop-color="#3b5f8c" stop-opacity="0.12"/></linearGradient>
<clipPath id="bub"><path d="M1091.8 686.1H1114.5Q1117.3 686.1 1117.3 688.9V709.4L1104.8 719.9L1101.8 714.7L1091 711.6Q1089 711 1089 709V688.9Q1089 686.1 1091.8 686.1Z"/></clipPath>
</defs>
<path d="M1091.8 686.1H1114.5Q1117.3 686.1 1117.3 688.9V709.4L1104.8 719.9L1101.8 714.7L1091 711.6Q1089 711 1089 709V688.9Q1089 686.1 1091.8 686.1Z" fill="#358c80"/>
<g clip-path="url(#bub)" fill="url(#shg)">
<path d="M1113.6 690.5L1118 695V712L1106 722L1100 716L1093.5 708.5L1096.8 708.5L1097 700.5L1099 702.5V708L1102.4 708.5L1102.6 698L1104.4 700.5V708L1107.8 708.5L1110.5 708.5L1113.6 705.5L1113.5 703.5Z"/>
</g>
<g stroke="#ffffff" stroke-width="3.5" stroke-linecap="round">
<line x1="1095.1" y1="701" x2="1095.1" y2="707.1"/>
<line x1="1100.7" y1="698.5" x2="1100.7" y2="707.1"/>
<line x1="1106.2" y1="702.9" x2="1106.2" y2="707.1"/>
<line x1="1111.8" y1="691.5" x2="1111.8" y2="702.4"/>
</g>
<circle cx="1111.8" cy="707.1" r="1.85" fill="#fff"/>
<text x="1126.8" y="708.2" font-size="26.5" fill="#2c8a80" stroke="#2c8a80" stroke-width="0.75" textLength="139.5" lengthAdjust="spacingAndGlyphs" style="fill:#2c8a80">Newsworthy</text>
</g>

</svg>
</body>
</html>
